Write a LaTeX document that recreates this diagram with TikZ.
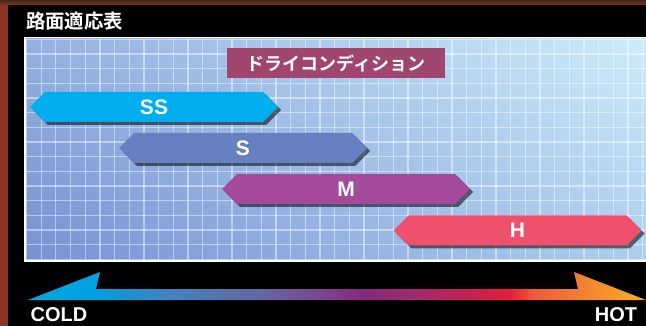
\documentclass[tikz,border=0pt]{standalone}
\usepackage{fontspec}
\setmainfont{Liberation Sans}
\newfontfamily\jpfont{Noto Sans CJK JP}[BoldFont=* Bold]
\usepackage{tikz}
\usetikzlibrary{positioning}
\usetikzlibrary{shapes.symbols}
\usetikzlibrary{shadows}

\definecolor{panelbg}{RGB}{0,0,0}
\definecolor{woodtop}{RGB}{70,40,24}
\definecolor{woodleft}{RGB}{140,52,34}
\definecolor{gridleft}{RGB}{134,166,220}
\definecolor{gridright}{RGB}{198,234,250}
\definecolor{condcol}{RGB}{160,70,110}
\definecolor{sscol}{RGB}{0,174,239}
\definecolor{scol}{RGB}{102,128,194}
\definecolor{mcol}{RGB}{165,74,154}
\definecolor{hcol}{RGB}{239,80,108}

\pgfdeclarehorizontalshading{coldhot}{100bp}{
  color(0bp)=(rgb,255:red,0;green,168;blue,224);
  color(25bp)=(rgb,255:red,0;green,168;blue,224);
  color(30.8bp)=(rgb,255:red,0;green,160;blue,222);
  color(32.4bp)=(rgb,255:red,20;green,148;blue,210);
  color(37.1bp)=(rgb,255:red,70;green,128;blue,190);
  color(43.5bp)=(rgb,255:red,100;green,104;blue,160);
  color(48.3bp)=(rgb,255:red,120;green,72;blue,145);
  color(52.2bp)=(rgb,255:red,133;green,42;blue,122);
  color(56.3bp)=(rgb,255:red,160;green,42;blue,106);
  color(61.2bp)=(rgb,255:red,200;green,32;blue,80);
  color(64bp)=(rgb,255:red,232;green,28;blue,60);
  color(65.9bp)=(rgb,255:red,240;green,90;blue,56);
  color(70.7bp)=(rgb,255:red,243;green,138;blue,48);
  color(75bp)=(rgb,255:red,248;green,176;blue,32);
  color(100bp)=(rgb,255:red,248;green,176;blue,32)}

\begin{document}
\begin{tikzpicture}[x=1pt,y=-1pt,
  tyre/.style={signal,signal to=east and west,signal pointer angle=90,
    minimum width=248pt,minimum height=30pt,inner sep=0pt,
    text=white,font=\bfseries\fontsize{21}{21}\selectfont,
    drop shadow={shadow xshift=3pt,shadow yshift=-3pt,fill=black,opacity=.55}},
  gridline/.style={white,opacity=.45,line width=1.3pt},
  endlabel/.style={text=white,font=\bfseries\fontsize{20}{20}\selectfont}]
\useasboundingbox (0,0) rectangle (646,326);

\fill[woodleft] (0,0) rectangle (646,326);
\shade[top color=woodtop,bottom color=woodleft] (0,0) rectangle (646,6);
\fill[panelbg] (8,5) rectangle (646,326);

\node[anchor=west,text=white,inner sep=0pt,font=\jpfont\bfseries\fontsize{19.4}{19.4}\selectfont]
  (title) at (26,21) {路面適応表};

\fill[white] (24,37) rectangle (646,262);
\shade[left color=gridleft,right color=gridright] (26,39) rectangle (646,260);
\shade[top color=white,bottom color=blue!60!black,opacity=.12] (26,39) rectangle (646,260);
\foreach \i in {0,...,42}
  \draw[gridline] (26.5+14.67*\i,39) -- (26.5+14.67*\i,260);
\foreach \j in {0,...,15}
  \draw[gridline] (26,39.3+14.67*\j) -- (646,39.3+14.67*\j);

\node[fill=condcol,text=white,minimum width=218pt,minimum height=30pt,inner sep=0pt,
  font=\jpfont\bfseries\fontsize{18}{18}\selectfont] (cond) at (336,63) {ドライコンディション};

\node[tyre,fill=sscol] (SS) at (154,107) {SS};
\node[tyre,fill=scol]  (S)  at (243,148) {S};
\node[tyre,fill=mcol]  (M)  at (346,189) {M};
\node[tyre,fill=hcol]  (H)  at (517.5,230.5) {H};

\shade[shading=coldhot] (28,300) -- (100,272) -- (96,289) -- (578,289) -- (574,272)
  -- (646,300) -- cycle;

\node[endlabel] (cold) at (59,314.5) {COLD};
\node[endlabel] (hot)  at (616,314.5) {HOT};
\end{tikzpicture}
\end{document}
